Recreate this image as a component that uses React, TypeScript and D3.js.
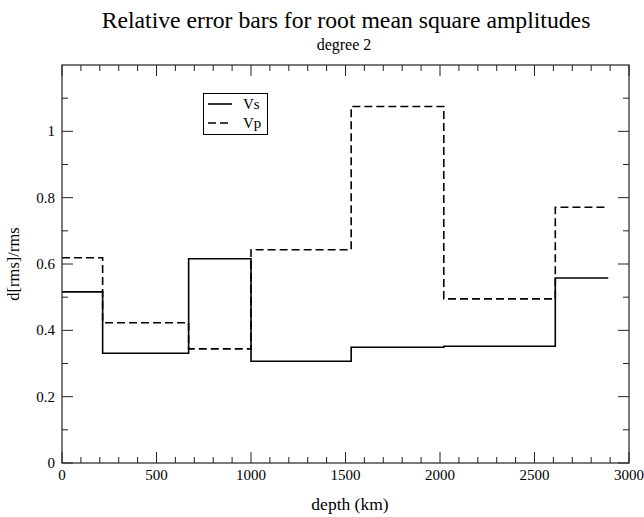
import React from "react";
import * as d3 from "d3";

const boundaries = [0, 215, 670, 1000, 1530, 2020, 2610, 2890];
const vsValues = [0.516, 0.331, 0.616, 0.307, 0.349, 0.352, 0.558];
const vpValues = [0.619, 0.423, 0.344, 0.643, 1.075, 0.495, 0.771];
const xMajorTicks = [0, 500, 1000, 1500, 2000, 2500, 3000];
const yMajorTicks = [0, 0.2, 0.4, 0.6, 0.8, 1];
const seriesNames = ["Vs", "Vp"];

const W = 644;
const H = 517;
const left = 62;
const right = 629;
const top = 65;
const bottom = 463;
const FONT = "'Liberation Serif', 'Times New Roman', serif";

export default function App() {
  const x = d3.scaleLinear().domain([0, 3000]).range([left, right]);
  const y = d3.scaleLinear().domain([0, 1.2]).range([bottom, top]);

  const toPts = (vals: number[]) => {
    const pts: [number, number][] = vals.map((v, i) => [boundaries[i], v]);
    pts.push([boundaries[boundaries.length - 1], vals[vals.length - 1]]);
    return pts;
  };
  const line = d3
    .line<[number, number]>()
    .x((d) => x(d[0]))
    .y((d) => y(d[1]))
    .curve(d3.curveStepAfter);

  const xMinor = d3.range(0, 3001, 100).filter((v) => v % 500 !== 0);
  const yMinor = d3.range(1, 12, 2).map((v) => v / 10);
  const majLen = 11;
  const minLen = 6;
  const stroke = "#222";

  return (
    <svg
      width={W}
      height={H}
      style={{ position: "absolute", left: 0, top: 0, background: "#fff" }}
      fontFamily={FONT}
    >
      <rect x={0} y={0} width={W} height={H} fill="#fff" />
      <text x={346} y={28} textAnchor="middle" fontSize={23.7} fill="#000">
        Relative error bars for root mean square amplitudes
      </text>
      <text x={344} y={50} textAnchor="middle" fontSize={16} fill="#000">
        degree 2
      </text>

      {/* ticks */}
      <g stroke={stroke} strokeWidth={1}>
        {xMajorTicks.map((t) => (
          <g key={"xm" + t}>
            <line x1={x(t)} x2={x(t)} y1={bottom} y2={bottom - majLen} />
            <line x1={x(t)} x2={x(t)} y1={top} y2={top + majLen} />
          </g>
        ))}
        {xMinor.map((t) => (
          <g key={"xn" + t}>
            <line x1={x(t)} x2={x(t)} y1={bottom} y2={bottom - minLen} />
            <line x1={x(t)} x2={x(t)} y1={top} y2={top + minLen} />
          </g>
        ))}
        {yMajorTicks.map((t) => (
          <g key={"ym" + t}>
            <line x1={left} x2={left + majLen} y1={y(t)} y2={y(t)} />
            <line x1={right} x2={right - majLen} y1={y(t)} y2={y(t)} />
          </g>
        ))}
        {yMinor.map((t) => (
          <g key={"yn" + t}>
            <line x1={left} x2={left + minLen} y1={y(t)} y2={y(t)} />
            <line x1={right} x2={right - minLen} y1={y(t)} y2={y(t)} />
          </g>
        ))}
      </g>

      {/* tick labels */}
      {xMajorTicks.map((t) => (
        <text key={"xl" + t} x={x(t)} y={480} textAnchor="middle" fontSize={15} fill="#000">
          {t}
        </text>
      ))}
      {yMajorTicks.map((t) => (
        <text
          key={"yl" + t}
          x={55}
          y={y(t) + 5}
          textAnchor="end"
          fontSize={15}
          fill="#000"
        >
          {String(t)}
        </text>
      ))}

      <text x={350} y={510} textAnchor="middle" fontSize={17.5} fill="#000">
        depth (km)
      </text>
      <text
        transform={`translate(19,${(top + bottom) / 2}) rotate(-90)`}
        textAnchor="middle"
        fontSize={16.5}
        fill="#000"
      >
        d[rms]/rms
      </text>

      {/* series */}
      <path d={line(toPts(vsValues)) || ""} fill="none" stroke="#000" strokeWidth={1.6} />
      <path
        d={line(toPts(vpValues)) || ""}
        fill="none"
        stroke="#000"
        strokeWidth={1.6}
        strokeDasharray="8,4"
      />

      {/* frame */}
      <rect
        x={left}
        y={top}
        width={right - left}
        height={bottom - top}
        fill="none"
        stroke={stroke}
        strokeWidth={1.2}
      />

      {/* legend */}
      <rect x={203.5} y={93.5} width={64} height={41} fill="#fff" stroke="#000" strokeWidth={1} />
      {seriesNames.map((name, i) => (
        <g key={name}>
          <line
            x1={208}
            x2={232}
            y1={104 + i * 19}
            y2={104 + i * 19}
            stroke="#000"
            strokeWidth={1.6}
            strokeDasharray={i === 1 ? "8,4" : undefined}
          />
          <text x={243} y={109 + i * 19} fontSize={15} fill="#000">
            {name}
          </text>
        </g>
      ))}
    </svg>
  );
}
